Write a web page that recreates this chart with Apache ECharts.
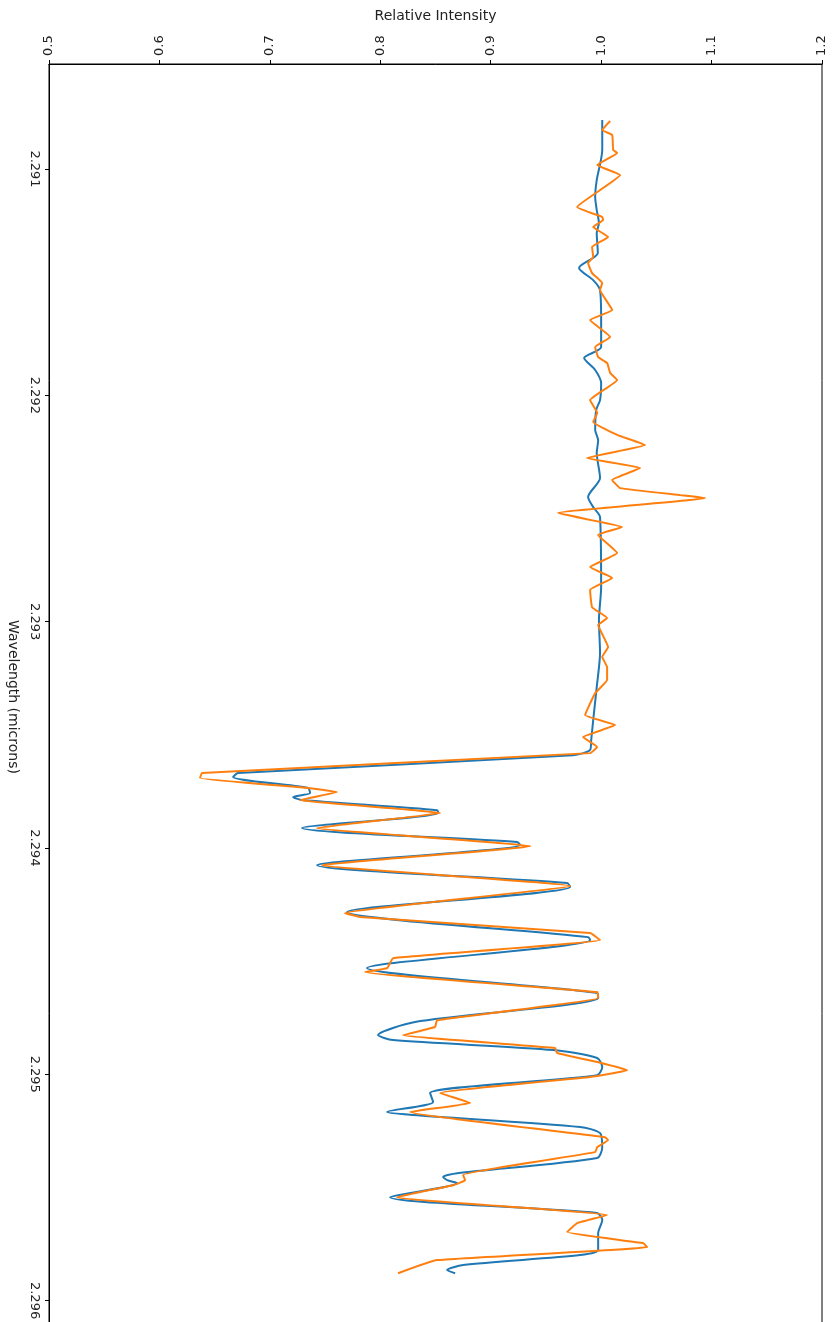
<!DOCTYPE html>
<html>
<head>
<meta charset="utf-8">
<script src="https://cdn.jsdelivr.net/npm/echarts@6/dist/echarts.min.js"></script>
<style>
  html, body { margin: 0; padding: 0; background: #fff; overflow: hidden; }
  #chart { width: 839px; height: 1340px; }
</style>
</head>
<body>
<div id="chart"></div>
<script>
// Wavelength (microns) and relative intensity, blue series
const wavelengthBlue = [
  2.290783, 2.290916, 2.291049, 2.291124, 2.291181, 2.291239, 2.291283, 2.291371, 2.291437, 2.291491,
  2.291535, 2.291667, 2.291787, 2.291835, 2.291888, 2.291946, 2.292021, 2.292065, 2.292153, 2.292198,
  2.292255, 2.292365, 2.292449, 2.292494, 2.292538, 2.292847, 2.292993, 2.293139, 2.293289, 2.293435,
  2.293523, 2.293567, 2.293590, 2.293669, 2.293687, 2.293735, 2.293757, 2.293775, 2.293788, 2.293833,
  2.293846, 2.293912, 2.293974, 2.293987, 2.294076, 2.294155, 2.294173, 2.294283, 2.294394, 2.294407,
  2.294531, 2.294641, 2.294663, 2.294769, 2.294827, 2.294849, 2.294893, 2.294928, 2.294968, 2.295004,
  2.295083, 2.295123, 2.295167, 2.295180, 2.295233, 2.295260, 2.295322, 2.295370, 2.295437, 2.295454,
  2.295468, 2.295481, 2.295543, 2.295613, 2.295644, 2.295702, 2.295777, 2.295799, 2.295843, 2.295865,
  2.295879
];
const intensityBlue = [
  1.001, 1.001, 0.996, 0.9946, 0.996, 0.998, 0.996, 0.997, 0.980, 0.9928,
  0.999, 1.000, 1.000, 0.9846, 0.9946, 1.000, 0.999, 0.9955, 0.9946, 0.9973,
  0.996, 0.999, 0.9882, 0.9928, 0.999, 1.000, 0.998, 0.999, 0.996, 0.9928,
  0.991, 0.990, 0.9746, 0.6712, 0.6667, 0.7346, 0.7364, 0.721, 0.7292, 0.8514,
  0.8524, 0.7292, 0.9239, 0.9266, 0.7428, 0.9692, 0.972, 0.770, 0.9882, 0.990,
  0.788, 0.9964, 0.9973, 0.8315, 0.798, 0.8116, 0.9565, 0.9964, 1.001, 0.9964,
  0.8451, 0.8478, 0.8062, 0.8297, 0.981, 0.999, 1.001, 0.9964, 0.8696, 0.8569,
  0.8605, 0.8696, 0.8089, 0.9964, 1.001, 0.9973, 0.9973, 0.981, 0.875, 0.8605,
  0.8678
];
// Orange series
const wavelengthOrange = [
  2.290788, 2.290828, 2.290850, 2.290916, 2.290929, 2.290982, 2.291027, 2.291168, 2.291212, 2.291225,
  2.291256, 2.291300, 2.291345, 2.291389, 2.291415, 2.291460, 2.291504, 2.291535, 2.291623, 2.291667,
  2.291742, 2.291787, 2.291831, 2.291857, 2.291901, 2.291932, 2.292021, 2.292078, 2.292118, 2.292175,
  2.292220, 2.292277, 2.292321, 2.292374, 2.292410, 2.292441, 2.292454, 2.292520, 2.292582, 2.292617,
  2.292697, 2.292759, 2.292807, 2.292860, 2.292936, 2.292984, 2.293015, 2.293112, 2.293156, 2.293201,
  2.293258, 2.293316, 2.293413, 2.293457, 2.293510, 2.293554, 2.293581, 2.293669, 2.293691, 2.293735,
  2.293753, 2.293788, 2.293846, 2.293912, 2.293992, 2.294076, 2.294168, 2.294288, 2.294305, 2.294376,
  2.294407, 2.294487, 2.294531, 2.294548, 2.294637, 2.294663, 2.294761, 2.294791, 2.294827, 2.294884,
  2.294906, 2.294946, 2.294982, 2.295012, 2.295083, 2.295127, 2.295167, 2.295278, 2.295291, 2.295322,
  2.295344, 2.295445, 2.295468, 2.295490, 2.295543, 2.295622, 2.295658, 2.295697, 2.295746, 2.295764,
  2.295821, 2.295879
];
const intensityOrange = [
  1.0082, 1.001, 1.010, 1.0109, 1.0145, 0.9964, 1.0172, 0.9783, 1.001, 1.0018,
  0.9928, 1.0063, 0.9918, 0.9928, 0.9882, 0.9918, 1.001, 0.999, 1.010, 0.990,
  1.0082, 0.9946, 0.9973, 1.0054, 1.0082, 1.0145, 0.990, 0.9964, 0.9928, 1.0145,
  1.0399, 0.9873, 1.0353, 1.010, 1.0172, 1.0716, 1.0942, 0.961, 1.019, 0.9973,
  1.0145, 0.990, 1.010, 0.990, 0.9918, 1.0054, 0.9973, 1.0063, 1.001, 1.0054,
  1.0054, 0.9946, 0.9855, 1.0127, 0.9837, 0.9964, 0.990, 0.6386, 0.6368, 0.7346,
  0.7609, 0.7274, 0.8542, 0.7428, 0.9357, 0.7473, 0.972, 0.7681, 0.7817, 0.990,
  0.999, 0.8116, 0.8062, 0.7862, 0.9964, 0.9973, 0.8514, 0.8496, 0.8207, 0.9583,
  0.9601, 0.9964, 1.0236, 0.990, 0.8542, 0.8813, 0.827, 1.0036, 1.0063, 0.9964,
  0.9946, 0.875, 0.8768, 0.8659, 0.8152, 1.0054, 0.9783, 0.9692, 1.038, 1.0417,
  0.8514, 0.8161
];
const wavelengthTicks = [2.291, 2.292, 2.293, 2.294, 2.295, 2.296];
const intensityTicks = [0.5, 0.6, 0.7, 0.8, 0.9, 1.0, 1.1, 1.2];

const zip = (w, v) => w.map((x, i) => [v[i], x]);

const chart = echarts.init(document.getElementById('chart'), null, { renderer: 'canvas' });
const font = 'DejaVu Sans';
chart.setOption({
  backgroundColor: '#fff',
  animation: false,
  grid: {
    left: 49, right: 17, top: 64, bottom: 10,
    containLabel: false, outerBoundsMode: 'none',
    show: true, borderColor: '#000', borderWidth: 1, backgroundColor: 'transparent'
  },
  xAxis: {
    type: 'value', position: 'top',
    min: 0.5, max: 1.2, interval: 0.1,
    name: 'Relative Intensity', nameLocation: 'middle', nameGap: 41,
    nameTextStyle: { fontFamily: font, fontSize: 14, color: '#222' },
    axisLine: { show: true, lineStyle: { color: '#000', width: 1 } },
    axisTick: { show: true, inside: false, length: 4, lineStyle: { color: '#000' },
                customValues: intensityTicks },
    axisLabel: { rotate: -90, margin: 8, fontFamily: font, fontSize: 13, color: '#222',
                 customValues: intensityTicks,
                 formatter: v => v.toFixed(1) },
    splitLine: { show: false }
  },
  yAxis: {
    type: 'value', inverse: true,
    min: 2.290536, max: 2.29613,
    name: 'Wavelength (microns)', nameLocation: 'middle', nameGap: 28, nameRotate: -90,
    nameTextStyle: { fontFamily: font, fontSize: 14, color: '#222' },
    axisLine: { show: true, lineStyle: { color: '#000', width: 1 } },
    axisTick: { show: true, inside: false, length: 4, lineStyle: { color: '#000' },
                customValues: wavelengthTicks },
    axisLabel: { rotate: -90, margin: 8, fontFamily: font, fontSize: 13, color: '#222',
                 customValues: wavelengthTicks,
                 formatter: v => v.toFixed(3) },
    splitLine: { show: false }
  },
  series: [
    {
      type: 'line', data: zip(wavelengthBlue, intensityBlue),
      showSymbol: false, smooth: 0.25, clip: true,
      lineStyle: { color: '#1f77b4', width: 2 }, itemStyle: { color: '#1f77b4' }, z: 2
    },
    {
      type: 'line', data: zip(wavelengthOrange, intensityOrange),
      showSymbol: false, smooth: 0.1, clip: true,
      lineStyle: { color: '#ff7f0e', width: 2 }, itemStyle: { color: '#ff7f0e' }, z: 3
    }
  ]
});
</script>
</body>
</html>
